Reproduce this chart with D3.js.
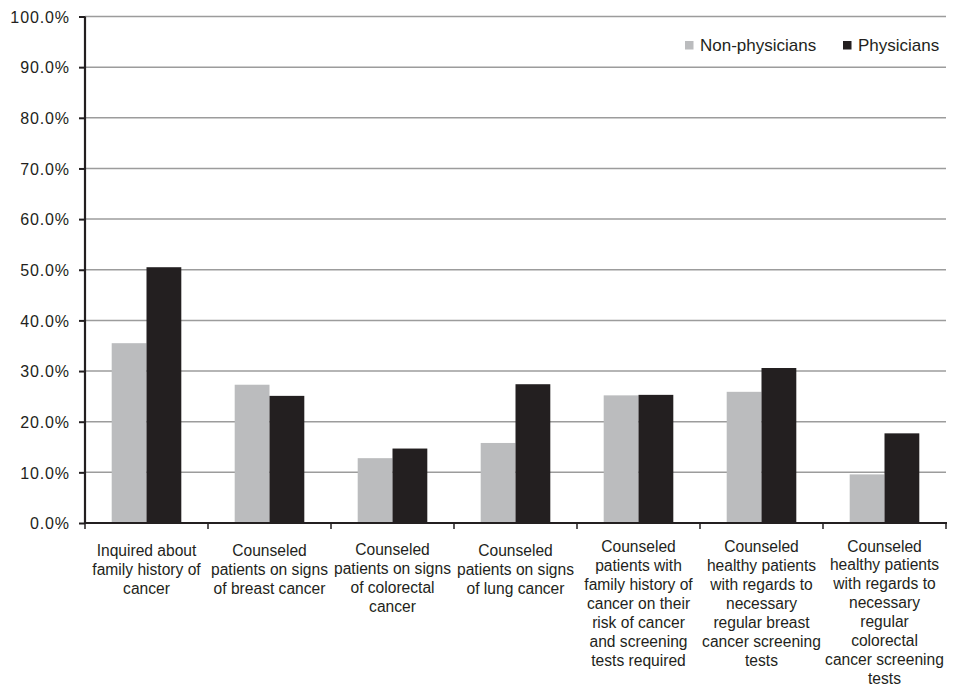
<!DOCTYPE html>
<html>
<head>
<meta charset="utf-8">
<script src="https://cdn.jsdelivr.net/npm/d3@7"></script>
<style>
  html, body { margin: 0; padding: 0; background: #fff; }
  svg { display: block; font-family: "Liberation Sans", Arial, Helvetica, sans-serif; }
</style>
</head>
<body>
<svg id="chart" width="960" height="688"></svg>
<script>
// Category labels, already broken into display lines
const categories = [
  ["Inquired about", "family history of", "cancer"],
  ["Counseled", "patients on signs", "of breast cancer"],
  ["Counseled", "patients on signs", "of colorectal", "cancer"],
  ["Counseled", "patients on signs", "of lung cancer"],
  ["Counseled", "patients with", "family history of", "cancer on their", "risk of cancer", "and screening", "tests required"],
  ["Counseled", "healthy patients", "with regards to", "necessary", "regular breast", "cancer screening", "tests"],
  ["Counseled", "healthy patients", "with regards to", "necessary", "regular", "colorectal", "cancer screening", "tests"]
];
const seriesNames = ["Non-physicians", "Physicians"];
const nonPhysicians = [35.5, 27.3, 12.8, 15.8, 25.2, 25.9, 9.6];
const physicians    = [50.5, 25.1, 14.7, 27.4, 25.3, 30.6, 17.7];
const yTicks = [0, 10, 20, 30, 40, 50, 60, 70, 80, 90, 100];

const seriesValues = [nonPhysicians, physicians];
const colors = ["#bbbcbe", "#231f20"];
const textColor = "#231f20";

const svg = d3.select("#chart");
const plotLeft = 85, plotRight = 946, plotTop = 16.5, plotBottom = 523;

const x0 = d3.scaleBand().domain(d3.range(categories.length)).range([plotLeft, plotRight]).padding(0);
const x1 = d3.scaleBand().domain(seriesNames).range([0, x0.bandwidth()]).paddingInner(0).paddingOuter(0.767);
const y = d3.scaleLinear().domain([0, 100]).range([plotBottom, plotTop]);

// Horizontal gridlines
svg.append("g")
  .selectAll("line")
  .data(yTicks.filter(t => t > 0))
  .join("line")
  .attr("x1", plotLeft).attr("x2", plotRight)
  .attr("y1", d => y(d)).attr("y2", d => y(d))
  .attr("stroke", "#9c9c9c")
  .attr("stroke-width", 1.5);

// Bars
const groups = svg.append("g")
  .selectAll("g")
  .data(categories.map((c, i) => i))
  .join("g")
  .attr("transform", i => `translate(${x0(i)},0)`);

groups.selectAll("rect")
  .data(i => seriesNames.map((s, k) => ({ s, k, v: seriesValues[k][i] })))
  .join("rect")
  .attr("x", d => x1(d.s))
  .attr("width", x1.bandwidth())
  .attr("y", d => y(d.v))
  .attr("height", d => y(0) - y(d.v))
  .attr("fill", d => colors[d.k]);

// Y axis
const yAxis = svg.append("g")
  .attr("transform", `translate(${plotLeft},0)`)
  .call(d3.axisLeft(y).tickValues(yTicks).tickSize(6).tickPadding(9)
    .tickFormat(d => d3.format(".1f")(d) + "%"));
yAxis.select(".domain").attr("stroke", textColor).attr("stroke-width", 2.2).attr("d", `M0,${plotTop}V${plotBottom}`);
yAxis.selectAll(".tick line").attr("stroke", textColor).attr("stroke-width", 2);
yAxis.selectAll(".tick text")
  .attr("fill", textColor)
  .style("font-size", "16px")
  .style("letter-spacing", "0.9px")
  .attr("dy", "0.36em");

// X axis: ticks on category boundaries
const xAxis = svg.append("g");
xAxis.append("line")
  .attr("x1", plotLeft - 1).attr("x2", plotRight + 1)
  .attr("y1", plotBottom).attr("y2", plotBottom)
  .attr("stroke", textColor).attr("stroke-width", 2.2);
const bounds = d3.range(categories.length + 1).map(i => i < categories.length ? x0(i) : x0(i - 1) + x0.bandwidth());
xAxis.selectAll("line.tick")
  .data(bounds)
  .join("line")
  .attr("class", "tick")
  .attr("x1", d => d).attr("x2", d => d)
  .attr("y1", plotBottom).attr("y2", plotBottom + 6)
  .attr("stroke", textColor).attr("stroke-width", 1.5);

// Category labels (longer labels sit slightly higher)
const lab = svg.append("g")
  .selectAll("text")
  .data(categories)
  .join("text")
  .attr("x", (d, i) => x0(i) + x0.bandwidth() / 2)
  .attr("y", d => 556 - (d.length - 3) * 0.9)
  .attr("text-anchor", "middle")
  .attr("fill", textColor)
  .style("font-size", "15.6px");
lab.selectAll("tspan")
  .data(d => d)
  .join("tspan")
  .attr("x", function () { return this.parentNode.getAttribute("x"); })
  .attr("dy", (d, j) => j === 0 ? 0 : 18.9)
  .text(d => d);

// Legend
const legendItems = [
  { name: seriesNames[0], color: colors[0], sx: 685, tx: 700 },
  { name: seriesNames[1], color: colors[1], sx: 843, tx: 858 }
];
const legend = svg.append("g");
legend.selectAll("rect")
  .data(legendItems)
  .join("rect")
  .attr("x", d => d.sx).attr("y", 41)
  .attr("width", 8.5).attr("height", 8.5)
  .attr("fill", d => d.color);
legend.selectAll("text")
  .data(legendItems)
  .join("text")
  .attr("x", d => d.tx).attr("y", 51)
  .attr("fill", textColor)
  .style("font-size", "17px")
  .text(d => d.name);
</script>
</body>
</html>
